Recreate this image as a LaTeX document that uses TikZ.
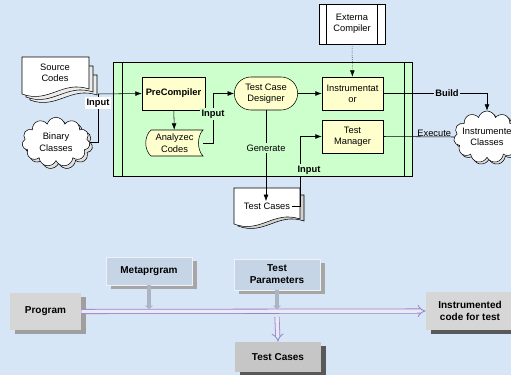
\documentclass[tikz,border=0pt]{standalone}
\usepackage{fontspec}
\setmainfont{Liberation Sans}
\usetikzlibrary{arrows.meta, shapes.symbols, shapes.misc, shadows}

\definecolor{bgblue}{RGB}{214,230,246}
\definecolor{boxgreen}{RGB}{204,255,204}
\definecolor{procyel}{RGB}{255,255,206}
\definecolor{lowgray}{RGB}{214,214,214}
\definecolor{lowblue}{RGB}{197,213,230}
\definecolor{arrowlav}{RGB}{150,135,200}
\definecolor{arrowin}{RGB}{236,232,246}
\definecolor{stemblue}{RGB}{172,180,194}

% wavy document outline: x1 y1 x2 y2 (pixel units)
\newcommand{\docpath}[4]{(#1,#2) -- (#3,#2) -- (#3,{#4-9}) .. controls ({#1+0.6*(#3-#1)},{#4-18}) and ({#1+0.4*(#3-#1)},{#4+6}) .. (#1,{#4-4}) -- cycle}

\tikzset{
  txt/.style={align=center, inner sep=1pt, font=\fontsize{7}{8.5}\selectfont},
  procbox/.style={txt, rectangle, draw, fill=procyel, minimum width=45.75pt, minimum height=24.75pt},
  cloudy/.style={cloud, cloud puffs=11, draw, fill=white, inner sep=0pt},
  lbl/.style={inner sep=1pt, font=\fontsize{7}{8}\selectfont\bfseries},
  lowbox/.style={align=center, inner sep=1pt, font=\fontsize{7.5}{9}\selectfont\bfseries, minimum width=64.5pt},
  hollow/.style={draw=arrowlav, double=arrowin, double distance=2.6pt, line width=0.6pt, -{Implies}},
  stem/.style={draw=stemblue, line width=3pt, -{Triangle[length=2.5pt, width=6pt]}}
}

\begin{document}
\begin{tikzpicture}[x=0.75pt, y=-0.75pt]
    \useasboundingbox (0,0) rectangle (511,375);
    \clip (0,0) rectangle (511,375);
    \fill[bgblue] (0,0) rectangle (511,375);

    % process frame
    \draw[fill=boxgreen] (113,62) rectangle (412,176);
    \draw (122,62) -- (122,176);
    \draw (404,62) -- (404,176);

    % document and data outlines
    \draw[fill=gray!15] \docpath{30}{75}{97}{104};
    \draw[fill=gray!15] \docpath{26}{66}{93}{101};
    \draw[fill=white] \docpath{22}{57}{89}{98};
    \draw[fill=gray!35] \docpath{238}{195}{304}{230};
    \draw[fill=white] \docpath{234}{188}{300}{228};
    \draw[fill=procyel] (151,130) -- (203,130) .. controls (197,136) and (197,150) .. (203,156) -- (151,156) .. controls (144,150) and (144,136) .. (151,130) -- cycle;

    \node (A) at (55,73) [txt] {Source\\Codes};
    \node (B) at (56,142) [cloudy, minimum width=51pt, minimum height=37pt,
        copy shadow={shadow xshift=2pt, shadow yshift=-2pt, fill=gray!25, draw=black},
        label={[txt]center:Binary\\Classes}] {};
    \node (C) at (173.5,93.5) [procbox, minimum width=47.25pt, font=\fontsize{7}{8.5}\selectfont\bfseries] {PreCompiler};
    \node (D) at (174.5,143) [txt, minimum width=42.75pt, minimum height=19.5pt] {Analyzec\\Codes};
    \node (E) at (266,93.5) [txt, rounded rectangle, draw, fill=procyel, minimum width=49.5pt, minimum height=24.75pt] {Test Case\\Designer};
    \node (F) at (352.5,93.5) [procbox] {Instrumentat\\or};
    \node (G) at (352.5,136.5) [procbox] {Test\\Manager};
    \node (H) at (352,24) [txt, rectangle, draw, fill=white, minimum width=49.5pt, minimum height=30pt] {Externa\\Compiler};
    \draw ([xshift=6pt]H.north west) -- ([xshift=6pt]H.south west);
    \draw ([xshift=-6pt]H.north east) -- ([xshift=-6pt]H.south east);
    \node (I) at (267,206) [txt] {Test Cases};
    \node (J) at (487,137) [cloudy, minimum width=50pt, minimum height=39pt,
        copy shadow={shadow xshift=1.5pt, shadow yshift=-1.5pt, fill=gray!25, draw=black},
        label={[txt]center:Instrumente\\Classes}] {};
    \coordinate (K) at (98,94);

    \draw (B.east) -| (K);
    \draw[-{Latex}] (K) -- (C.west);
    \node at (98,103) [lbl, fill=white] {Input};
    \draw[-{Latex}] (C) -- (D);
    \draw[-{Latex}] (D.east) -- ++(10,0) |- (E.west);
    \node at (213,114) [lbl, fill=boxgreen] {Input};
    \draw[-{Latex}] (E) -- (F);
    \draw[-{Latex}] (E.south) -- (E.south |- I.north);
    \node at (266,148) [lbl, fill=boxgreen, font=\fontsize{7}{8}\selectfont] {Generate};
    \draw[-{Latex}] (I.east) -- ++(9,0) |- (G.west);
    \node at (309,170) [lbl, fill=boxgreen] {Input};
    \draw[densely dotted, -{Latex}] (H) -- (F);
    \draw[-{Latex}] (F.east) -| (J.north);
    \node at (447,93) [lbl, fill=bgblue] {Build};
    \draw (G.east) -- node[lbl, above=-1pt, pos=0.72, font=\fontsize{7}{8}\selectfont] {Execute} (J.west);

    % lower overview
    \node (P) at (45.5,311.5) [lowbox, fill=lowgray, minimum width=53.25pt, minimum height=27.75pt,
        drop shadow={shadow xshift=3.5pt, shadow yshift=-3pt, fill=gray!75, opacity=1}] {Program};
    \node (Q) at (149,271) [lowbox, fill=lowblue, draw=white!70!lowblue, minimum height=21pt,
        drop shadow={shadow xshift=3.5pt, shadow yshift=-3pt, fill=gray!70, opacity=1}] {Metaprgram};
    \node (R) at (277,274.5) [lowbox, fill=lowblue, draw=white!70!lowblue, minimum height=23.25pt,
        drop shadow={shadow xshift=3.5pt, shadow yshift=-3pt, fill=gray!70, opacity=1}] {Test\\Parameters};
    \node (S) at (470,311) [lowbox, fill=lowgray, minimum width=66pt, minimum height=28.5pt,
        drop shadow={shadow xshift=3.5pt, shadow yshift=-3pt, fill=black!65, opacity=1}] {Instrumented\\code for test};
    \node (T) at (278,357) [lowbox, fill=gray!45, minimum height=22.5pt,
        drop shadow={shadow xshift=3.5pt, shadow yshift=-3pt, fill=black!65, opacity=1}] {Test Cases};
    \coordinate (M1) at (146,309);
    \coordinate (M2) at (277,317);

    \draw[stem] (Q.south) -- (Q.south |- M1);
    \draw[stem] (R.south) -- (R.south |- M1);
    \draw[hollow] (P.east) -- (S.west);
    \draw[hollow] (M2) -- (T.north);
\end{tikzpicture}
\end{document}
